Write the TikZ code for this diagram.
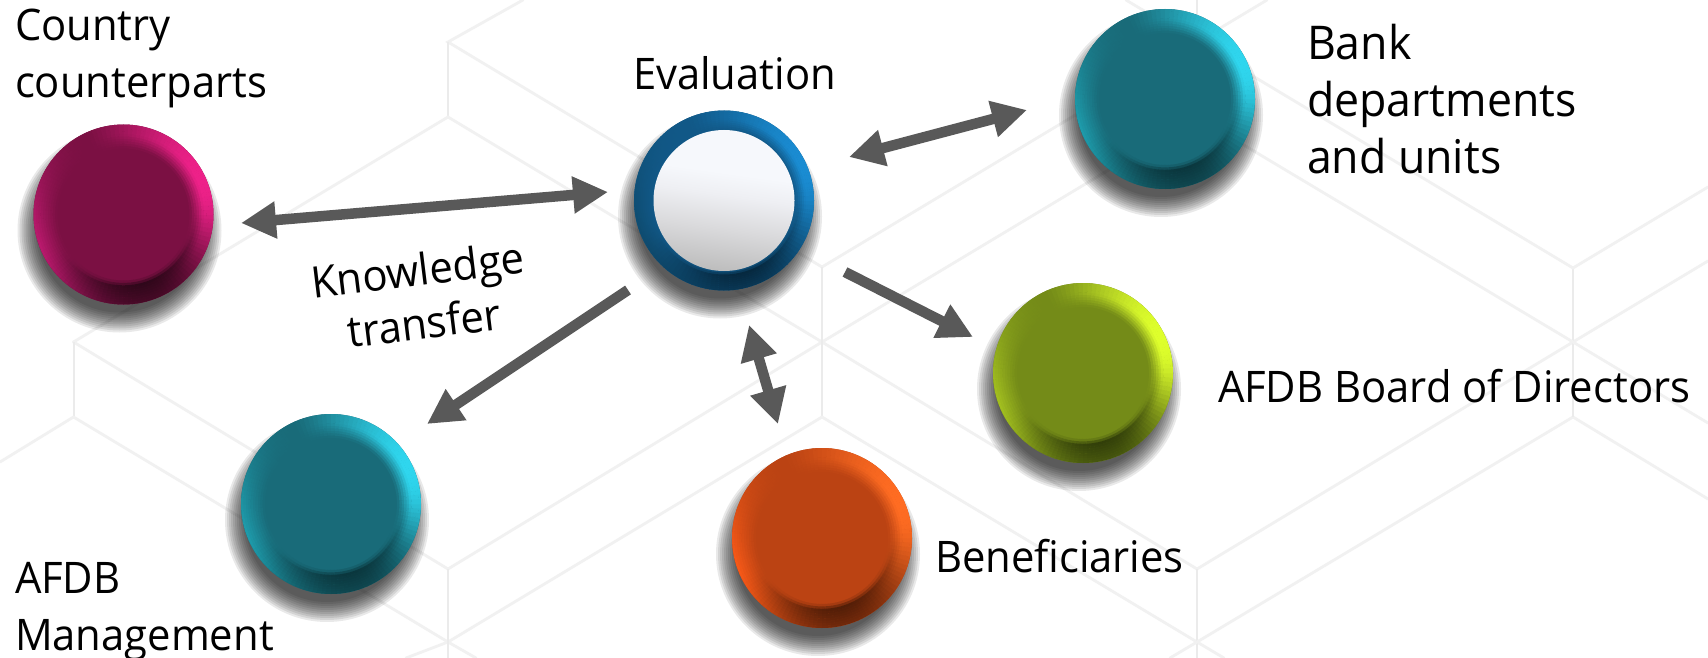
\documentclass[tikz,border=0pt]{standalone}
\usepackage{fontspec}
\usetikzlibrary{arrows.meta,calc}
\newfontfamily\labfont{Open Sans}[FakeStretch=0.96]
\definecolor{hexline}{HTML}{F1F1F1}
\definecolor{hexvert}{HTML}{EBEBEB}
\definecolor{arrowgrey}{HTML}{595959}
\definecolor{evlow}{HTML}{BDBDBD}
\definecolor{evmid}{HTML}{DADADC}
\definecolor{evhigh}{HTML}{EEEFF3}
\definecolor{evtop}{HTML}{F6F8FC}
\pgfdeclareverticalshading{evalgrad}{100bp}{color(0bp)=(evlow); color(25bp)=(evlow); color(40bp)=(evmid); color(52bp)=(evhigh); color(60bp)=(evtop); color(100bp)=(evtop)}
\tikzset{
  hexedge/.style={draw=hexline,line width=2.8pt,line cap=round},
  hexthin/.style={draw=hexvert,line width=2pt},
  ballnode/.style={circle,minimum size=180pt,inner sep=0pt,outer sep=0pt},
  lab/.style={font=\labfont\fontsize{43.5}{57}\selectfont,text=black,inner sep=0pt,outer sep=0pt,align=left,anchor=base west},
  headtip/.tip={Triangle[length=35pt,width=35pt]},
  twoway/.style={draw=arrowgrey,line width=10.5pt,headtip-headtip},
  oneway/.style={draw=arrowgrey,line width=10.5pt,-headtip},
}
\newcommand{\rgbdef}[2]{%
  \def\tmpA##1,##2,##3;{%
    \expandafter\def\csname #1r\endcsname{##1}%
    \expandafter\def\csname #1g\endcsname{##2}%
    \expandafter\def\csname #1b\endcsname{##3}}%
  \tmpA #2;}
\newcommand{\mixch}[5]{% result macro, in, bright, left, dark
  \pgfmathsetmacro{#1}{#2+(#3-#2)*\aaw}%
  \pgfmathsetmacro{#1}{#1+(#4-#1)*\llw}%
  \pgfmathsetmacro{#1}{#1+(#5-#1)*\ddw}%
  \pgfmathsetmacro{#1}{max(0,min(1,#1/255))}}
% name, x, y, inner radius, inner rgb, bright rgb, dark rgb, left rgb
\newcommand{\placeball}[8]{%
  \foreach \sr in {102,100,...,82}{
    \fill[black,opacity=0.085] (#2-4,#3+16) circle[radius=\sr pt];
  }
  \rgbdef{Cin}{#5}\rgbdef{Cbr}{#6}\rgbdef{Cdk}{#7}\rgbdef{Clf}{#8}%
  \definecolor{basec}{RGB}{#5}%
  \node[ballnode,fill=basec] (#1) at (#2,#3) {};
  \begin{scope}[shift={(#1.center)}]
  \foreach \ang in {0,3,...,357}{
    \foreach \ri in {0,...,9}{
      \pgfmathsetmacro{\uuv}{(\ri+0.5)/10}
      \pgfmathsetmacro{\phiang}{-(\ang+1.5)}
      \pgfmathsetmacro{\rA}{#4+(90-#4)*\ri/10}
      \pgfmathsetmacro{\rB}{#4+(90-#4)*(\ri+1)/10+(\ri<9?0.4:0)}
      \pgfmathsetmacro{\aaw}{pow(max(0,cos(\phiang-25)),1.3)*min(1,\uuv*1.7)}
      \pgfmathsetmacro{\ddw}{pow(max(0,cos(\phiang-285)),2)*(1-0.35*\uuv)*min(1,\uuv*4)}
      \pgfmathsetmacro{\llw}{pow(max(0,cos(\phiang-205)),2)*\uuv}
      \mixch{\rrv}{\Cinr}{\Cbrr}{\Clfr}{\Cdkr}
      \mixch{\ggv}{\Cing}{\Cbrg}{\Clfg}{\Cdkg}
      \mixch{\bbv}{\Cinb}{\Cbrb}{\Clfb}{\Cdkb}
      \definecolor{tmpc}{rgb}{\rrv,\ggv,\bbv}
      \fill[tmpc] (\ang:\rA) -- (\ang:\rB) -- (\ang+3.3:\rB) -- (\ang+3.3:\rA) -- cycle;
    }
  }
  \end{scope}
}
\begin{document}
\begin{tikzpicture}[x=1pt,y=-1pt]
\useasboundingbox (0,0) rectangle (1708,658);
\fill[white] (0,0) rectangle (1708,658);
% background lattice
\draw[hexedge] (523,0) -- (448,42) -- (822,267) -- (1267,0);
\draw[hexthin] (448,42) -- (448,117);
\draw[hexedge] (73.5,342) -- (448,117) -- (822,342) -- (1197,569) -- (1573,342) -- (1708,261);
\draw[hexedge] (1197,117) -- (822,342) -- (448,569) -- (73.5,342);
\draw[hexthin] (73.5,342) -- (73.5,417);
\draw[hexthin] (822,267) -- (822,417);
\draw[hexedge] (0,462) -- (73.5,417) -- (448,642) -- (476,658);
\draw[hexedge] (406,658) -- (448,642) -- (822,417) -- (1197,642) -- (1224,658);
\draw[hexthin] (448,569) -- (448,658);
\draw[hexthin] (1197,569) -- (1197,658);
\draw[hexedge] (1170,658) -- (1197,642) -- (1573,417) -- (1708,499);
\draw[hexthin] (1197,0) -- (1197,117);
\draw[hexthin] (1573,268) -- (1573,417);
\draw[hexedge] (1126,0) -- (1573,268) -- (1708,187);
\draw[hexedge] (1197,117) -- (1573,342) -- (1708,423);
% balls
\placeball{country}{123.5}{214.5}{66}{123,16,67}{238,33,137}{40,6,22}{190,26,112}
\placeball{evaluation}{724}{200.5}{70}{17,88,135}{26,140,210}{5,36,56}{14,76,112}
\node[circle,minimum size=141pt,inner sep=0pt,shading=evalgrad,shading angle=-8] (evalcore) at (evaluation.center) {};
\placeball{bank}{1165}{99}{66}{25,107,121}{47,214,238}{9,50,56}{30,158,174}
\placeball{management}{331}{504}{66}{25,107,121}{47,214,238}{9,50,56}{30,158,174}
\placeball{beneficiaries}{822}{538}{66}{187,67,19}{255,108,34}{72,26,6}{250,90,24}
\placeball{board}{1083}{373}{66}{116,139,24}{222,255,44}{44,56,8}{165,194,32}
% connector ends
\coordinate (cA) at (241,223);
\coordinate (eA) at (608,192);
\coordinate (eB) at (849,157);
\coordinate (bB) at (1027,110);
\coordinate (eM) at (628,290);
\coordinate (mM) at (427,424);
\coordinate (eF) at (749,325);
\coordinate (fF) at (778,424);
\coordinate (eD) at (845,272);
\coordinate (dD) at (973,337);
\draw[twoway] (cA) -- (eA);
\draw[twoway] (eB) -- (bB);
\draw[oneway] (eM) -- (mM);
\draw[twoway] (eF) -- (fF);
\draw[oneway] (eD) -- (dD);
% labels
\node[lab] (tCountry) at (15,98) {Country\\counterparts};
\node[lab] (tEval) at (633,90) {Evaluation};
\node[lab,font=\labfont\fontsize{46.5}{57}\selectfont] (tBank) at (1307,173) {Bank\\departments\\and units};
\node[lab] (tMgmt) at (15,650) {AFDB\\Management};
\node[lab] (tBoard) at (1218,402) {AFDB Board of Directors};
\node[lab] (tBen) at (935,572) {Beneficiaries};
\node[lab,align=center,anchor=center,rotate=7,font=\labfont\fontsize{43.5}{53}\selectfont] (tKnow) at (421,296) {Knowledge\\transfer};
\end{tikzpicture}
\end{document}
